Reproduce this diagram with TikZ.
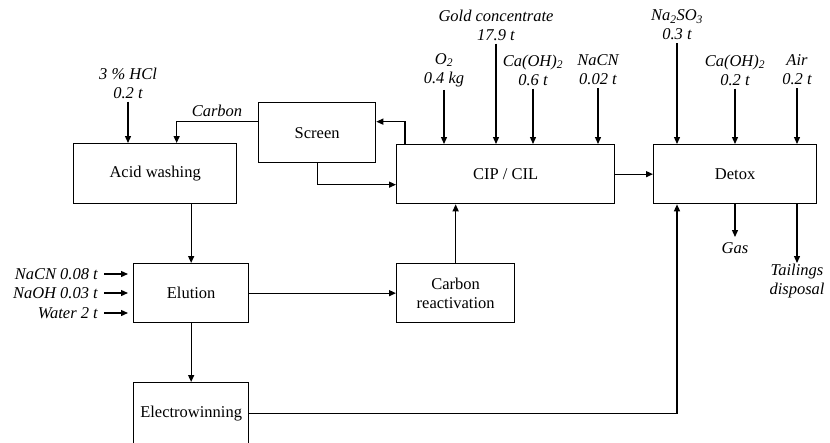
\documentclass[tikz,border=0pt]{standalone}
\usepackage{fontspec}
\setmainfont{Liberation Serif}
\usetikzlibrary{arrows.meta}
\begin{document}
\begin{tikzpicture}[x=1pt,y=-1pt,
  every node/.style={font=\fontsize{16.5}{19}\selectfont, inner sep=0pt},
  proc/.style={draw, line width=1.3pt, anchor=north west, align=center},
  feed/.style={font=\fontsize{16.5}{19}\selectfont\itshape, align=center},
  flow/.style={line width=1.3pt, -{Triangle[length=7pt,width=6pt]}}]
\useasboundingbox (0,0) rectangle (830,442);

% process units
\node[proc, minimum width=163pt, minimum height=60pt] (acid) at (73,143) {Acid washing};
\node[proc, minimum width=117pt, minimum height=60pt] (screen) at (258,102) {Screen};
\node[proc, minimum width=218pt, minimum height=59pt] (cip) at (396,144) {CIP / CIL};
\node[proc, minimum width=163pt, minimum height=59pt] (detox) at (653,144) {Detox};
\node[proc, minimum width=115pt, minimum height=59pt] (elution) at (133,263) {Elution};
\node[proc, minimum width=118pt, minimum height=59pt] (react) at (396,263) {Carbon\\reactivation};
\node[proc, minimum width=115pt, minimum height=62pt] (ew) at (133,382) {Electrowinning};

% reagents and products
\node[feed] (hcl) at (128,83) {3 \% HCl\\0.2 t};
\node[feed] (carb) at (217,111) {Carbon};
\node[feed] (gold) at (496,25) {Gold concentrate\\17.9 t};
\node[feed] (o2) at (444,70) {O\textsubscript{2}\\0.4 kg};
\node[feed] (lime1) at (533,70) {Ca(OH)\textsubscript{2}\\0.6 t};
\node[feed] (nacn) at (598,70) {NaCN\\0.02 t};
\node[feed] (sulf) at (677,25) {Na\textsubscript{2}SO\textsubscript{3}\\0.3 t};
\node[feed] (lime2) at (735,70) {Ca(OH)\textsubscript{2}\\0.2 t};
\node[feed] (air) at (797,70) {Air\\0.2 t};
\node[feed, anchor=north] (gas) at (735,242) {Gas};
\node[feed, anchor=north] (tail) at (797,264) {Tailings\\disposal};
\node[feed, anchor=east] (in1) at (98,274) {NaCN 0.08 t};
\node[feed, anchor=east] (in2) at (98,293) {NaOH 0.03 t};
\node[feed, anchor=east] (in3) at (98,313) {Water 2 t};

% carbon circuit
\draw[flow] ([yshift=-3pt]hcl.south) -- (hcl.south |- acid.north);
\draw[flow] ([yshift=11pt]screen.west) -| ([xshift=21.5pt]acid.north);
\draw[flow] ([xshift=9pt]cip.north west) |- ([yshift=11pt]screen.east);
\draw[flow] (screen.south) |- ([yshift=-10.5pt]cip.west);
\draw[flow] (elution.north |- acid.south) -- (elution.north);
\draw[flow] (elution.east) -- (react.west);
\draw[flow] (react.north) -- (react.north |- cip.south);
\draw[flow] (elution.south) -- (elution.south |- ew.north);
\draw[flow] (ew.east) -| ([xshift=24pt]detox.south west);

% leach feeds
\draw[flow] ([yshift=-3pt]gold.south) -- (gold.south |- cip.north);
\draw[flow] ([yshift=-3pt]o2.south) -- (o2.south |- cip.north);
\draw[flow] ([yshift=-3pt]lime1.south) -- (lime1.south |- cip.north);
\draw[flow] ([yshift=-3pt]nacn.south) -- (nacn.south |- cip.north);
\draw[flow] (cip.east) -- (detox.west);

% detox feeds and outputs
\draw[flow] ([yshift=-3pt]sulf.south) -- (sulf.south |- detox.north);
\draw[flow] ([yshift=-3pt]lime2.south) -- (lime2.south |- detox.north);
\draw[flow] ([yshift=-3pt]air.south) -- (air.south |- detox.north);
\draw[flow] (gas.north |- detox.south) -- ([yshift=5pt]gas.north);
\draw[flow] (tail.north |- detox.south) -- ([yshift=1pt]tail.north);

% elution reagents
\foreach \n in {in1,in2,in3}
  \draw[flow, shorten >=5pt] ([xshift=6pt]\n.east) -- (\n.east -| elution.west);
\end{tikzpicture}
\end{document}
